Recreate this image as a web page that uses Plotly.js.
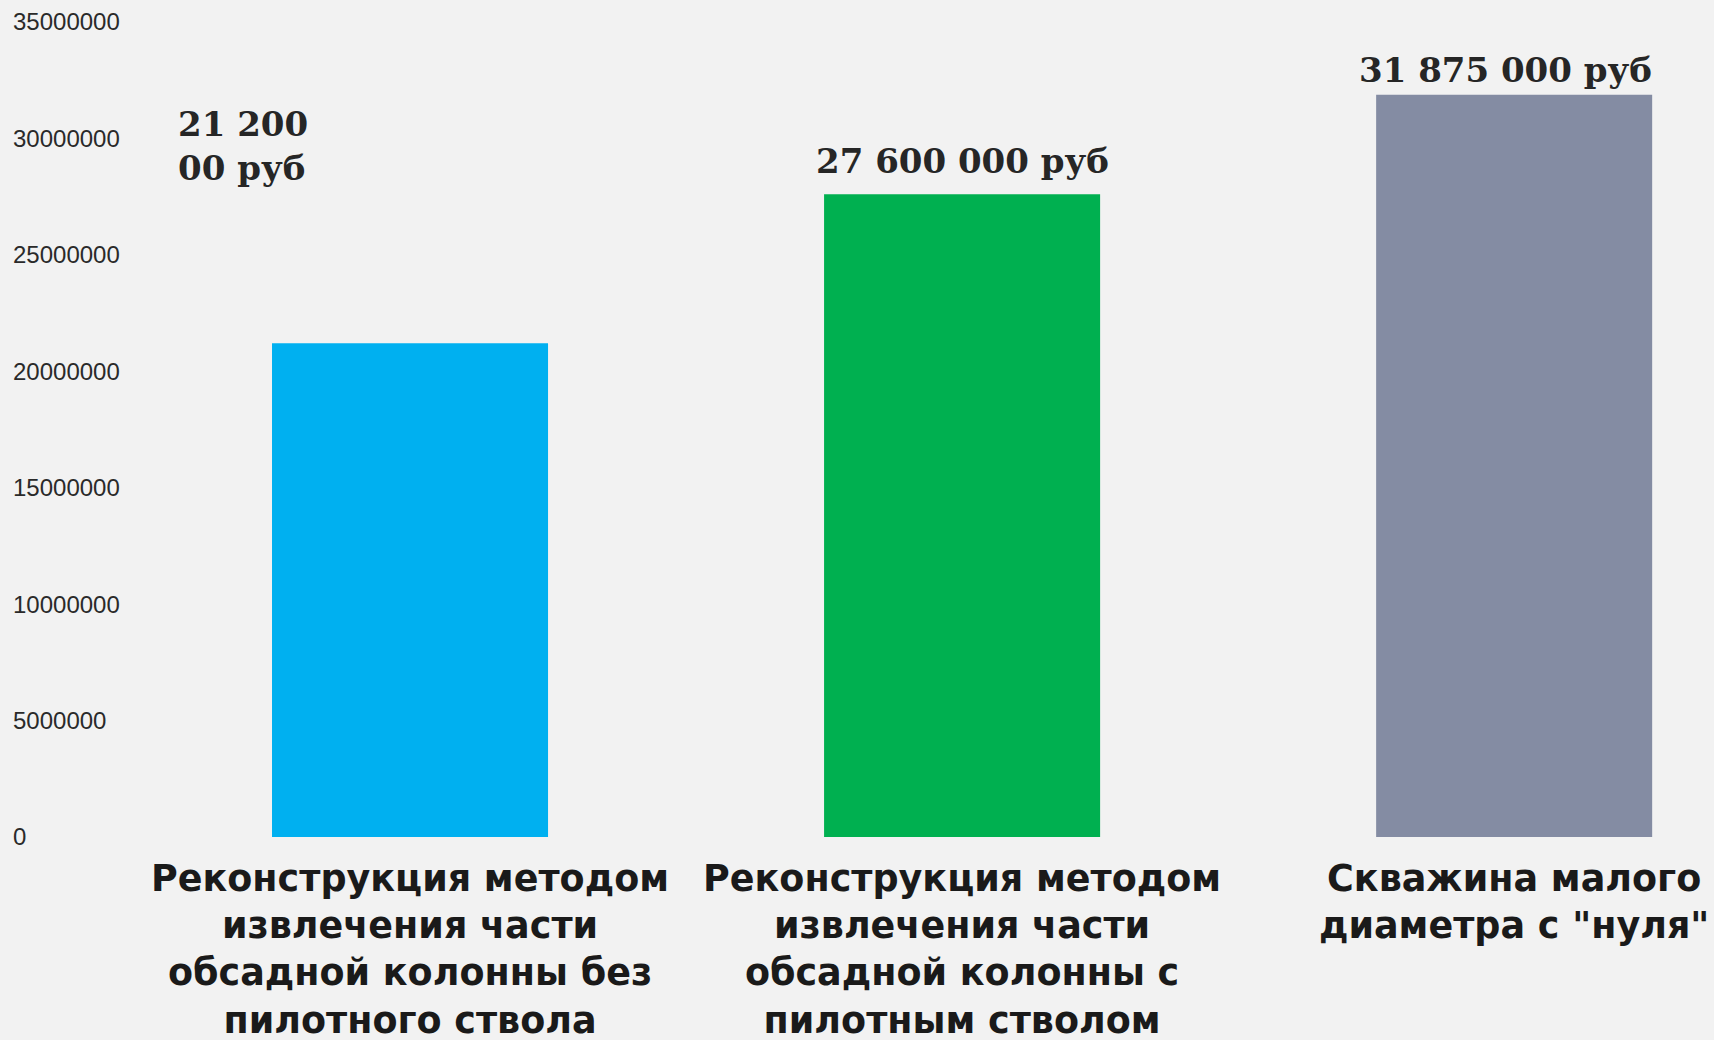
<!DOCTYPE html>
<html>
<head>
<meta charset="utf-8">
<script src="https://cdn.plot.ly/plotly-3.0.1.min.js"></script>
<style>html,body{margin:0;padding:0;background:#f2f2f2;}#chart{width:1714px;height:1040px;}</style>
</head>
<body>
<div id="chart"></div>
<script>
const categories = [
  "Реконструкция методом<br>извлечения части<br>обсадной колонны без<br>пилотного ствола",
  "Реконструкция методом<br>извлечения части<br>обсадной колонны с<br>пилотным стволом",
  "Скважина малого<br>диаметра с \"нуля\""
];
const values = [21200000, 27600000, 31875000];
const valueLabels = ["21 200<br>00 руб", "27 600 000 руб", "31 875 000 руб"];
const barColors = ["#00b0f0", "#00b050", "#848ca3"];
const yTickVals = [0, 5000000, 10000000, 15000000, 20000000, 25000000, 30000000, 35000000];
const yTickText = ["0", "5000000", "10000000", "15000000", "20000000", "25000000", "30000000", "35000000"];

const labelOffsets = [
  {xshift: -167, yshift: 197, align: "left"},
  {xshift: 0, yshift: 33, align: "center"},
  {xshift: -9, yshift: 25, align: "center"}
];

const trace = {
  type: "bar",
  x: categories,
  y: values,
  marker: {color: barColors},
  hoverinfo: "none"
};

const annotations = categories.map((c, i) => ({
  x: c, y: values[i], xref: "x", yref: "y",
  text: valueLabels[i], showarrow: false,
  xanchor: "center", yanchor: "middle",
  xshift: labelOffsets[i].xshift, yshift: labelOffsets[i].yshift,
  align: labelOffsets[i].align,
  font: {family: "DejaVu Serif", size: 34, color: "#262626", weight: "bold"}
}));

// 23.286 px per 1,000,000 ; pad 22px top, 16px bottom
const layout = {
  width: 1714, height: 1040,
  paper_bgcolor: "#f2f2f2", plot_bgcolor: "#f2f2f2",
  margin: {l: 10, r: 0, t: 0, b: 187},
  showlegend: false,
  bargap: 0.5,
  xaxis: {
    type: "category",
    range: [-0.7246, 2.362],
    showgrid: false, zeroline: false, showline: false,
    ticks: "", ticklen: 0,
    tickfont: {family: "DejaVu Sans", size: 36.5, color: "#1a1a1a", weight: "bold"}
  },
  yaxis: {
    range: [-687100, 35944800],
    tickvals: yTickVals, ticktext: yTickText,
    ticklabelposition: "inside",
    showgrid: false, zeroline: false, showline: false,
    ticks: "",
    tickfont: {family: "Liberation Sans", size: 24, color: "#2a2a2a"}
  },
  annotations: annotations
};

Plotly.newPlot("chart", [trace], layout, {displayModeBar: false, staticPlot: true});
</script>
</body>
</html>
